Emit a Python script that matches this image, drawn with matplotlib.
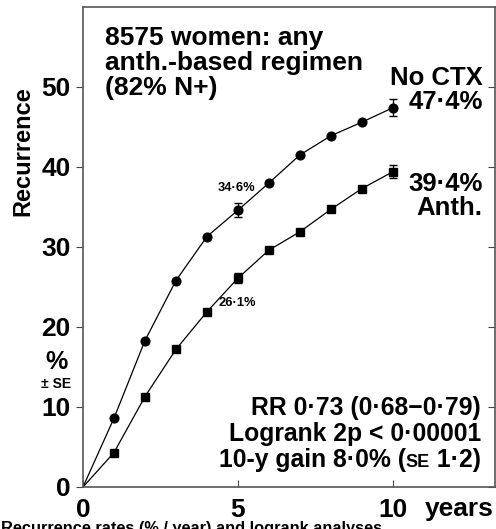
import matplotlib
matplotlib.use('Agg')
import matplotlib.pyplot as plt
from matplotlib.offsetbox import TextArea, HPacker, VPacker, AnchoredOffsetbox

plt.rcParams['font.family'] = ['Liberation Sans', 'DejaVu Sans']
plt.rcParams['font.weight'] = 'bold'

# data (year 0 = origin, no marker)
years = [0, 1, 2, 3, 4, 5, 6, 7, 8, 9, 10]
no_ctx = [0, 8.6, 18.3, 25.8, 31.3, 34.6, 38.0, 41.5, 43.9, 45.6, 47.4]
anth = [0, 4.3, 11.3, 17.2, 21.9, 26.1, 29.6, 31.9, 34.7, 37.3, 39.4]
se_years = [5, 10]
no_ctx_se = [0.9, 1.05]
anth_se = [0.6, 0.8]
x_ticks = [0, 5, 10]
y_ticks = [0, 10, 20, 30, 40, 50]


def main():
    fig = plt.figure(figsize=(4.96, 5.29), dpi=100)
    ax = fig.add_axes([83 / 496, 42 / 529, 412 / 496, 480 / 529])

    ax.plot(years, no_ctx, color='black', lw=0.9, marker='o', ms=6.3, markevery=list(range(1, 11)))
    ax.plot(years, anth, color='black', lw=0.9, marker='s', ms=6, markevery=list(range(1, 11)))
    ax.errorbar(se_years, [no_ctx[5], no_ctx[10]], yerr=no_ctx_se, fmt='none', ecolor='black', elinewidth=0.9, capsize=3)
    ax.errorbar(se_years, [anth[5], anth[10]], yerr=anth_se, fmt='none', ecolor='black', elinewidth=0.9, capsize=3)

    ax.set_xlim(0, 13.3)
    ax.set_ylim(0, 60)
    ax.set_xticks(x_ticks)
    ax.set_yticks(y_ticks)
    ax.set_xticklabels([str(t) for t in x_ticks], fontsize=19, fontweight='bold')
    ax.set_yticklabels([str(t) for t in y_ticks], fontsize=19, fontweight='bold')
    ax.tick_params(axis='x', direction='in', length=5, pad=8, color='#444444')
    ax.tick_params(axis='y', direction='out', length=5, pad=4, color='#444444', right=True)
    for s in ax.spines.values():
        s.set_color('#555555')
        s.set_linewidth(1.2)

    # right-hand ticks point inward
    for t in ax.yaxis.get_major_ticks():
        t.tick2line.set_marker(0)
        t.tick2line.set_markersize(5)

    ax.text(0.71, 57.6, '8575 women: any\nanth.-based regimen\n(82% N+)',
            fontsize=19, fontweight='bold', va='top', ha='left', linespacing=1.06)
    ax.text(12.9, 52.6, 'No CTX\n47·4%', fontsize=18.5, fontweight='bold', ha='right', va='top', linespacing=1.0)
    ax.text(12.9, 39.4, '39·4%\nAnth.', fontsize=18.5, fontweight='bold', ha='right', va='top', linespacing=1.0)
    ax.text(4.97, 37.4, '34·6%', fontsize=9.3, fontweight='bold', ha='center', va='center')
    ax.text(4.97, 23.06, '26·1%', fontsize=9.3, fontweight='bold', ha='center', va='center')

    # stats block, small-caps SE on last line
    big = dict(fontsize=17.8, fontweight='bold')
    row1 = TextArea('RR 0·73 (0·68−0·79)', textprops=big)
    row2 = TextArea('Logrank 2p < 0·00001', textprops=big)
    row3 = HPacker(children=[TextArea('10-y gain 8·0% (', textprops=big),
                             TextArea('SE', textprops=dict(fontsize=13, fontweight='bold')),
                             TextArea(' 1·2)', textprops=big)],
                   align='baseline', pad=0, sep=0)
    block = VPacker(children=[row1, row2, row3], align='right', pad=0, sep=1.5)
    anch = AnchoredOffsetbox(loc='lower right', child=block, pad=0, frameon=False,
                             bbox_to_anchor=(12.85, 1.9), bbox_transform=ax.transData, borderpad=0)
    ax.add_artist(anch)

    fig.text(23 / 496, 1 - 151 / 529, 'Recurrence', rotation=90, fontsize=17, fontweight='bold',
             ha='center', va='center')
    fig.text(56 / 496, 1 - 369 / 529, '%', fontsize=18, fontweight='bold', ha='center', va='baseline')
    fig.text(56 / 496, 1 - 388 / 529, '± SE', fontsize=10, fontweight='bold', ha='center', va='baseline')
    fig.text(459 / 496, 1 - 509 / 529, 'years', fontsize=19, fontweight='bold', ha='center', va='center')
    fig.text(1 / 496, 1 - 521 / 529, 'Recurrence rates (% / year) and logrank analyses', fontsize=11.8,
             fontweight='bold', ha='left', va='top')

    fig.savefig('out.png', dpi=100)
    plt.close(fig)


if __name__ == "__main__":
    main()
